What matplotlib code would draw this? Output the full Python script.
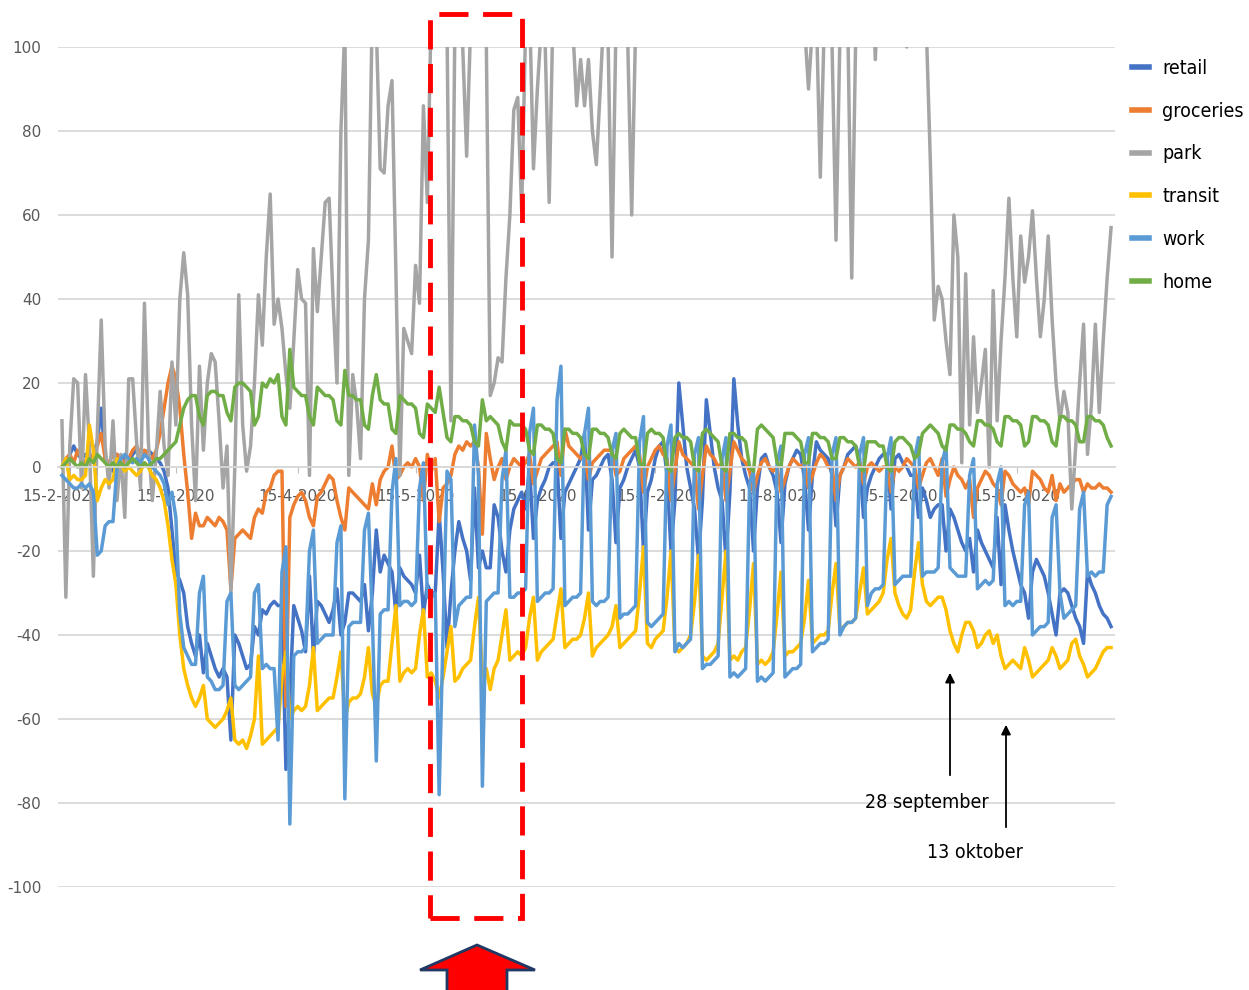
import matplotlib
matplotlib.use('Agg')
import matplotlib.pyplot as plt
from matplotlib import font_manager
from matplotlib.lines import Line2D
from matplotlib.patches import Rectangle, Polygon
import numpy as np
import pandas as pd

plt.rcParams['axes.unicode_minus'] = False

# Google mobility, NL, daily from 15-2-2020, one row per week (Sat..Fri)
retail = [
    [0, 1, 3, 5, 3, 2, 3], [2, 3, 6, 14, 2, 0, -1], [3, 2, 2, 1, 3, 4, 2], [3, 4, 3, 2, 1, -1, -5],
    [-15, -25, -27, -30, -38, -42, -45], [-40, -49, -42, -45, -48, -50, -48], [-50, -65, -40, -42, -45, -48, -47],
    [-38, -40, -34, -35, -33, -32, -33], [-33, -72, -55, -33, -36, -39, -44], [-26, -45, -32, -33, -35, -37, -34],
    [-29, -40, -37, -30, -30, -31, -32], [-28, -39, -30, -15, -25, -21, -23], [-25, -35, -24, -26, -27, -28, -30],
    [-21, -35, -28, -30, -30, -11, -25], [-43, -30, -20, -13, -17, -20, -27], [-5, -24, -20, -24, -24, -9, -12],
    [-20, -25, -15, -10, -8, -6, -10], [0, -17, -8, -5, -3, 0, 1], [1, -17, -6, -4, -2, 0, 2],
    [8, -15, -3, -2, 0, 2, 3], [-3, -18, -5, -3, 0, 2, 4], [0, -20, -6, -3, 2, 5, 6],
    [-2, -20, -8, 20, 10, 0, -5], [-10, -22, -8, 16, 8, 0, -5], [-8, -22, -6, 21, 10, 2, -2],
    [-5, -20, -5, 2, 3, 0, -2], [-6, -18, -4, 0, 2, 4, 3], [-3, -15, -2, 6, 4, 3, 2],
    [-2, -14, -2, 0, 3, 4, 5], [2, -12, -5, -2, 0, 2, 3], [3, -10, 2, 3, 1, 0, -2],
    [-2, -12, -5, -8, -12, -10, -9], [-9, -20, -10, -12, -15, -18, -20], [-17, -25, -15, -18, -20, -22, -24],
    [-12, -28, -9, -15, -20, -24, -28], [-30, -36, -25, -22, -24, -26, -30], [-35, -40, -30, -29, -30, -33, -36],
    [-38, -42, -25, -28, -30, -33, -35], [-36, -38],
]
groceries = [
    [0, 2, 3, 1, 4, 2, 1], [2, 3, 5, 8, 2, 1, 3], [3, 2, 1, 2, 4, 5, 3], [4, 3, 2, 4, 8, 14, 20],
    [24, 21, 14, 3, -6, -17, -11], [-14, -14, -12, -13, -14, -12, -13], [-15, -29, -17, -16, -15, -16, -17],
    [-12, -10, -11, -6, -5, -2, -1], [-1, -57, -12, -9, -7, -6, -8], [-12, -14, -7, -6, -4, -2, -3],
    [-8, -12, -15, -5, -6, -7, -8], [-9, -10, -4, -9, -3, -1, 0], [5, -3, -2, 0, 1, 0, 2],
    [0, -8, 3, -1, 2, -13, -5], [-4, -2, 3, 5, 4, 6, 5], [6, 0, -16, 8, 2, -3, 0],
    [2, -3, 0, 2, 1, 0, 1], [3, -4, -1, 2, 3, 4, 5], [6, -2, 9, 5, 4, 3, 2],
    [3, -3, 1, 2, 3, 4, 4], [4, -2, -1, 2, 3, 4, 5], [3, -6, 0, 2, 4, 5, 3],
    [2, -8, -1, 6, 3, 2, 1], [0, -10, -2, 5, 3, 2, 0], [1, -8, -1, 6, 4, 2, 1],
    [-1, -6, -2, 1, 2, 0, -1], [0, -6, -3, 0, 2, 1, 0], [1, -5, -2, 1, 3, 2, 0],
    [0, -8, -2, 0, 2, 1, 0], [1, -4, 0, 1, 0, -1, 0], [0, -6, 0, -1, 0, 2, 1],
    [0, -5, -2, 1, 2, 0, -2], [2, -7, -3, 0, -2, -3, -5], [-3, -12, -5, -3, -1, -2, -4],
    [-5, -9, -1, -2, -4, -5, -6], [-5, -9, -1, -2, -3, -5, -6], [-2, -8, -4, -6, -5, -4, -3],
    [-3, -6, -4, -5, -5, -4, -5], [-5, -6],
]
park = [
    [11, -31, 5, 21, 20, -5, 22], [5, -26, 8, 35, 5, -5, 11], [-8, 3, -12, 21, 21, 6, -5], [39, 6, -8, 3, 18, 5, -2],
    [25, 10, 40, 51, 41, 10, -8], [24, 4, 20, 27, 25, 11, -5], [5, -30, 0, 41, 10, -1, 5],
    [20, 41, 29, 50, 65, 34, 40], [33, 22, 14, 30, 47, 40, 39], [-2, 52, 37, 50, 63, 64, 40],
    [20, 80, 105, -2, 22, 15, 2], [40, 54, 110, 105, 71, 70, 86], [92, 46, -2, 33, 30, 27, 48],
    [39, 86, 63, 110, 115, 130, 110], [105, 11, 105, 110, 100, 74, 105], [130, 110, 105, 101, 17, 20, 26],
    [25, 45, 60, 85, 88, 61, 105], [110, 71, 90, 105, 100, 63, 110], [120, 105, 110, 115, 105, 86, 97],
    [86, 97, 80, 72, 90, 110, 101], [50, 105, 110, 102, 101, 60, 105], [130, 150, 120, 125, 140, 160, 135],
    [150, 170, 125, 120, 130, 145, 155], [160, 140, 120, 115, 125, 130, 150], [145, 165, 130, 120, 110, 125, 140],
    [150, 135, 120, 125, 140, 150, 160], [170, 150, 130, 120, 115, 125, 110], [105, 90, 105, 108, 69, 105, 110],
    [100, 54, 103, 110, 105, 45, 102], [110, 115, 120, 125, 97, 120, 130], [140, 125, 115, 110, 105, 100, 115],
    [125, 130, 120, 104, 73, 35, 43], [40, 30, 22, 60, 50, 1, 46], [10, 31, 13, 20, 28, 0, 42],
    [11, 30, 45, 64, 45, 31, 55], [44, 50, 61, 45, 31, 40, 55], [35, 20, 11, 18, 13, -10, 5],
    [20, 34, 3, 15, 34, 13, 30], [45, 57],
]
transit = [
    [0, 2, -3, -2, -3, -3, -2], [10, 4, -8, -5, -3, -4, -3], [2, 1, -1, 0, -1, -2, -1], [1, 0, -2, -3, -5, -8, -14],
    [-22, -28, -40, -48, -52, -55, -57], [-55, -52, -60, -61, -62, -61, -60], [-58, -55, -65, -66, -65, -67, -64],
    [-60, -45, -66, -65, -64, -63, -62], [-50, -44, -60, -58, -57, -58, -57], [-52, -43, -58, -57, -56, -55, -55],
    [-50, -44, -60, -56, -55, -55, -54], [-50, -43, -54, -57, -52, -51, -51], [-42, -33, -51, -49, -48, -49, -48],
    [-40, -34, -50, -49, -51, -55, -50], [-44, -38, -51, -50, -48, -47, -46], [-38, -31, -50, -48, -53, -48, -46],
    [-40, -34, -46, -45, -44, -45, -43], [-36, -31, -46, -44, -43, -42, -41], [-35, -29, -43, -42, -41, -41, -40],
    [-36, -30, -45, -43, -42, -41, -40], [-38, -33, -43, -42, -41, -40, -39], [-30, -19, -42, -43, -41, -40, -39],
    [-31, -20, -43, -44, -43, -42, -40], [-32, -21, -45, -46, -45, -44, -42], [-31, -20, -46, -45, -46, -44, -43],
    [-34, -23, -47, -46, -47, -46, -44], [-35, -25, -45, -44, -44, -43, -42], [-36, -27, -42, -41, -40, -40, -39],
    [-30, -23, -39, -38, -37, -37, -36], [-30, -24, -35, -34, -33, -32, -30], [-22, -17, -30, -33, -35, -36, -34],
    [-25, -18, -28, -32, -33, -32, -31], [-31, -34, -39, -42, -44, -40, -37], [-37, -39, -43, -42, -40, -39, -42],
    [-40, -45, -48, -47, -46, -47, -48], [-43, -46, -50, -49, -48, -47, -46], [-43, -45, -48, -47, -46, -42, -41],
    [-45, -47, -50, -49, -48, -46, -44], [-43, -43],
]
work = [
    [-2, -3, -4, -5, -5, -4, -5], [-4, -6, -21, -20, -14, -13, -13], [0, 2, 3, 2, 1, 2, 1], [3, 2, 0, -1, -2, -4, -9],
    [-6, -12, -35, -43, -45, -47, -47], [-30, -26, -50, -51, -53, -53, -52], [-32, -30, -52, -53, -52, -51, -50],
    [-30, -28, -48, -47, -48, -48, -65], [-25, -19, -85, -45, -44, -44, -43], [-20, -15, -42, -41, -40, -40, -40],
    [-18, -14, -79, -38, -37, -37, -37], [-15, -11, -36, -70, -35, -34, -34], [-6, 2, -33, -32, -32, -33, -32],
    [-5, 1, -31, -31, -30, -78, -40], [-1, -3, -38, -33, -32, -31, -31], [10, -2, -76, -32, -31, -30, -30],
    [-3, 4, -31, -31, -30, -30, -29], [8, 14, -32, -31, -30, -30, -29], [16, 24, -33, -32, -31, -31, -30],
    [8, 14, -32, -33, -32, -32, -31], [4, 8, -36, -35, -35, -34, -33], [6, 12, -37, -38, -37, -36, -35],
    [5, 10, -44, -42, -43, -42, -41], [3, 7, -48, -47, -47, -46, -45], [2, 7, -50, -49, -50, -49, -48],
    [-4, -1, -51, -50, -51, -50, -49], [1, 5, -50, -49, -48, -48, -47], [3, 7, -44, -43, -42, -42, -41],
    [3, 7, -40, -38, -37, -37, -36], [3, 7, -33, -30, -29, -29, -28], [2, 7, -28, -27, -26, -26, -26],
    [2, 7, -26, -25, -25, -25, -24], [1, 5, -24, -25, -26, -26, -26], [-2, 2, -29, -28, -27, -28, -27],
    [-4, 0, -33, -32, -33, -32, -32], [-9, -6, -40, -39, -38, -38, -37], [-12, -9, -30, -36, -35, -34, -33],
    [-10, -6, -26, -25, -26, -25, -25], [-9, -7],
]
home = [
    [0, 1, 2, 1, 0, 1, 0], [2, 1, 3, 2, 1, 0, 1], [0, 1, 0, 1, 2, 1, 0], [1, 0, 1, 2, 2, 3, 4],
    [5, 6, 10, 14, 16, 17, 17], [12, 10, 17, 18, 18, 17, 17], [13, 11, 19, 20, 20, 19, 18],
    [10, 12, 20, 19, 21, 20, 22], [12, 10, 28, 19, 18, 17, 17], [12, 10, 19, 18, 17, 17, 16],
    [11, 10, 23, 17, 17, 16, 16], [10, 9, 17, 22, 16, 15, 15], [9, 8, 17, 16, 15, 15, 14],
    [8, 7, 15, 14, 13, 19, 13], [7, 6, 12, 12, 11, 11, 10], [6, 5, 16, 11, 12, 11, 10],
    [6, 4, 11, 10, 10, 10, 9], [4, 3, 10, 10, 9, 9, 8], [2, 1, 9, 9, 8, 8, 7],
    [3, 2, 9, 9, 8, 8, 7], [3, 2, 8, 9, 8, 7, 7], [1, 0, 8, 9, 8, 8, 7],
    [0, -1, 7, 8, 7, 7, 6], [0, -1, 8, 9, 8, 7, 6], [0, -1, 8, 8, 7, 7, 6],
    [0, -1, 9, 10, 9, 8, 7], [1, 0, 8, 8, 8, 7, 6], [1, 1, 8, 8, 7, 7, 6],
    [2, 2, 7, 7, 6, 6, 5], [0, -1, 6, 6, 6, 5, 5], [0, -1, 6, 7, 7, 6, 5],
    [2, 3, 8, 9, 10, 9, 8], [5, 4, 10, 10, 9, 9, 8], [6, 5, 11, 11, 10, 10, 9],
    [6, 5, 12, 12, 11, 11, 10], [5, 6, 12, 12, 11, 11, 10], [6, 5, 12, 12, 11, 11, 10],
    [6, 6, 12, 12, 11, 11, 10], [7, 5],
]

start = pd.Timestamp('2020-02-15')
tick_dates = ['2020-02-15', '2020-03-15', '2020-04-15', '2020-05-15', '2020-06-15',
              '2020-07-15', '2020-08-15', '2020-09-15', '2020-10-15']
tick_labels = ['15-2-2020', '15-3-2020', '15-4-2020', '15-5-2020', '15-6-2020',
               '15-7-2020', '15-8-2020', '15-9-2020', '15-10-2020']

series = [('retail', retail, '#4472C4'), ('groceries', groceries, '#ED7D31'),
          ('park', park, '#A5A5A5'), ('transit', transit, '#FFC000'),
          ('work', work, '#5B9BD5'), ('home', home, '#70AD47')]


def narrow_font(size):
    for f in font_manager.fontManager.ttflist:
        if f.name == 'Liberation Sans Narrow' or ('DejaVuSansCondensed' in f.fname and 'Bold' not in f.fname
                                                  and 'Oblique' not in f.fname):
            return font_manager.FontProperties(fname=f.fname, size=size)
    return font_manager.FontProperties(family='DejaVu Sans', size=size)


W, H = 1249, 990
fig = plt.figure(figsize=(W / 100, H / 100), dpi=100)
ax = fig.add_axes([58 / W, 1 - 887 / H, (1115 - 58) / W, 840 / H])

n = len(sum(retail, []))
x = np.arange(n)
for name, weeks, col in series:
    ax.plot(x, sum(weeks, []), color=col, lw=2.5, label=name, solid_joinstyle='round')

ax.set_xlim(-1, 268)
ax.set_ylim(-100, 100)
ax.set_yticks(range(-100, 101, 20))
ax.grid(axis='y', color='#D9D9D9', lw=1.3)
ax.set_axisbelow(True)
for s in ['top', 'right', 'left']:
    ax.spines[s].set_visible(False)
ax.spines['bottom'].set_position(('data', 0))
ax.spines['bottom'].set_color('#D9D9D9')
ax.spines['bottom'].set_linewidth(1.3)

ticks = [(pd.Timestamp(d) - start).days for d in tick_dates]
ax.set_xticks(ticks)
ax.set_xticklabels(tick_labels)
ax.tick_params(axis='x', length=4, color='#BFBFBF', pad=12, labelsize=11, labelcolor='#595959')
ax.tick_params(axis='y', length=0, pad=12, labelsize=11, labelcolor='#595959')

handles = [Line2D([], [], color=c, lw=4) for _, _, c in series]
fig.legend(handles, [s[0] for s in series], loc='upper left', bbox_to_anchor=(1132 / W, 1 - 59 / H),
           frameon=False, prop=narrow_font(14), handlelength=0.85, handletextpad=0.7, labelspacing=1.22,
           borderpad=0, borderaxespad=0)

# red dashed box and block arrow
fig.patches.append(Rectangle((430 / W, 1 - 918 / H), 92 / W, 904 / H, transform=fig.transFigure,
                             fill=False, ec='#FF0000', lw=3.5, ls=(0, (6, 3))))
arrow_px = [(420, 970), (477, 945), (535, 970), (507, 970), (507, 995), (447, 995), (447, 970)]
fig.patches.append(Polygon([(px / W, 1 - py / H) for px, py in arrow_px], closed=True,
                           transform=fig.transFigure, fc='#FF0000', ec='#1F3864', lw=2))

# black arrows with dates
for label, (tx, ty), (x0, y0, y1) in [('28 september', (927, 802), (950, 778, 670)),
                                      ('13 oktober', (975, 853), (1006, 830, 722))]:
    fig.text(tx / W, 1 - ty / H, label, fontproperties=narrow_font(14), ha='center', va='center',
             color='#000000')
    ax.annotate('', xy=(x0, H - y1), xytext=(x0, H - y0), xycoords='figure pixels',
                textcoords='figure pixels',
                arrowprops=dict(arrowstyle='-|>', color='black', lw=1.3, mutation_scale=14))

fig.savefig('out.png', dpi=100)
